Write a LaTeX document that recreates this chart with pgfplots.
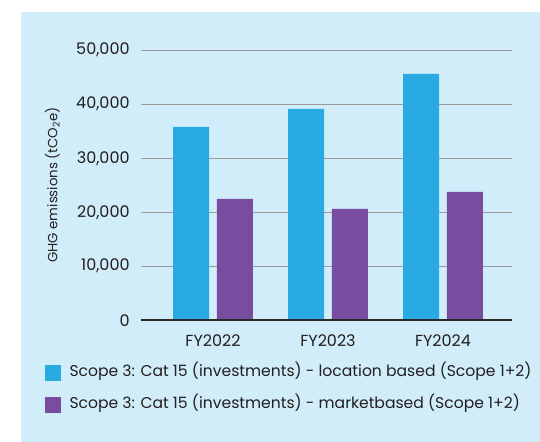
\documentclass[border=0pt]{standalone}
\usepackage{pgfplots}
\pgfplotsset{compat=1.18}
\usepackage{fontspec}
\setmainfont{Poppins}
\definecolor{panel}{HTML}{D1EDFA}
\definecolor{barblue}{HTML}{29AAE2}
\definecolor{barpurple}{HTML}{784C9E}
\definecolor{gridgray}{HTML}{9A9A9A}
\definecolor{axisdark}{HTML}{2B2B2B}
\definecolor{txt}{HTML}{231F20}
\begin{document}
\begin{tikzpicture}
\fill[white] (0pt,0pt) rectangle (405pt,331.5pt);
\fill[panel] (15.75pt,0pt) rectangle (405pt,322.5pt);
\begin{axis}[
  at={(105.75pt,91.3pt)}, anchor=south west,
  scale only axis, width=278.25pt, height=202.5pt,
  xmin=-0.626, xmax=2.6, ymin=0, ymax=50000,
  ytick={0,10000,20000,30000,40000,50000},
  xtick={0,1,2}, xticklabels={FY2022,FY2023,FY2024},
  scaled y ticks=false,
  /pgf/number format/assume math mode=true,
  /pgf/number format/1000 sep={,},
  major tick length=0pt,
  axis line style={draw=none},
  ymajorgrids, grid style={gridgray, line width=0.9pt},
  tick label style={font=\fontsize{12}{14}\selectfont, text=txt},
  yticklabel style={anchor=east, xshift=-5pt},
  xticklabel style={anchor=base, yshift=-19.5pt},
  ylabel={GHG emissions (tCO\textsubscript{2}e)},
  every axis y label/.style={at={(rel axis cs:-0.239,0.501)}, rotate=90, anchor=center, font=\fontsize{10}{12}\selectfont, text=txt},
  ybar, bar width=0.313,
  legend style={at={(rel axis cs:-0.2608,-0.158)}, anchor=north west, draw=none, fill=none, inner sep=0pt,
    font=\fontsize{11.7}{14}\selectfont, text=txt, row sep=10.2pt,
    nodes={inner sep=1pt, text height=9pt, text depth=3pt},
    /tikz/every odd column/.append style={column sep=5.75pt}},
  legend cell align=left,
  legend image code/.code={\fill[#1] (0pt,-6pt) rectangle (12pt,6pt);},
]
\addplot[fill=barblue, draw=none, bar shift=-0.191] coordinates {(0,35800) (1,39130) (2,45610)};
\addplot[fill=barpurple, draw=none, bar shift=0.191] coordinates {(0,22460) (1,20610) (2,23760)};
\draw[axisdark, line width=1.3pt] (rel axis cs:0,0) -- (rel axis cs:1,0);
\legend{Scope 3: Cat 15 (investments) - location based (Scope 1+2), Scope 3: Cat 15 (investments) - marketbased (Scope 1+2)}
\end{axis}
\end{tikzpicture}
\end{document}
